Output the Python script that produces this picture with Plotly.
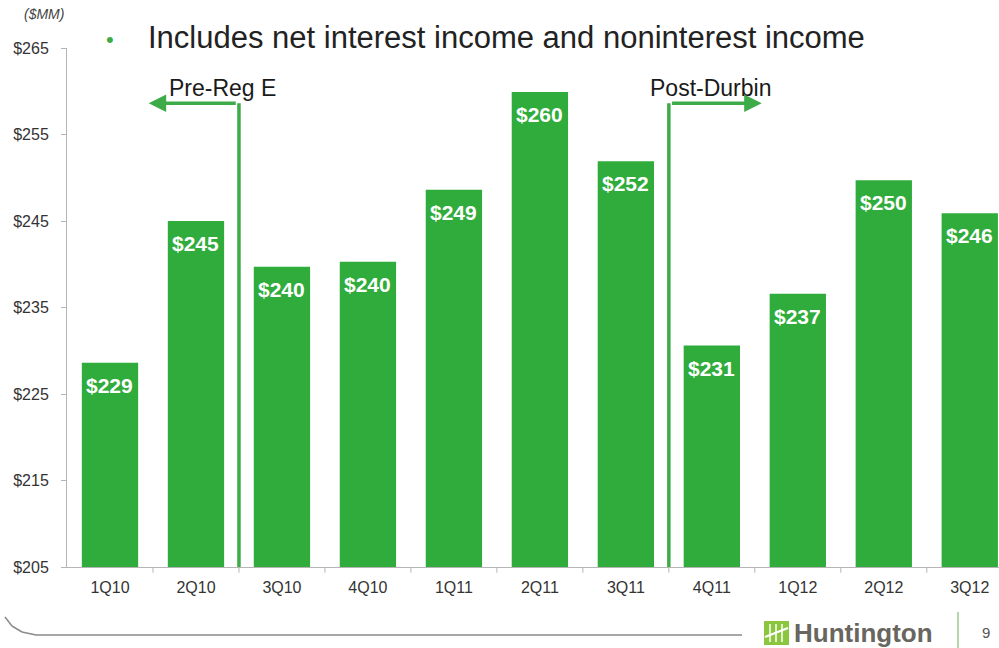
import plotly.graph_objects as go

# Quarterly revenue, $MM
quarters = ["1Q10", "2Q10", "3Q10", "4Q10", "1Q11", "2Q11", "3Q11",
            "4Q11", "1Q12", "2Q12", "3Q12"]
revenue = [228.6, 245.0, 239.7, 240.3, 248.6, 259.9, 251.9,
           230.6, 236.6, 249.7, 245.9]
y_ticks = [205, 215, 225, 235, 245, 255, 265]
y_tick_text = ["$205", "$215", "$225", "$235", "$245", "$255", "$265"]

W, H = 999, 648
L, T, B = 67, 48, 81
PW, PH = W - L, H - T - B

GREEN = "#2fac3b"
LINE_GREEN = "#3dab48"
GRAY_AX = "#b5b5b5"
TXT = "#333333"


def px(x):
    return (x - L) / PW


def py(y):
    return (H - B - y) / PH


x_idx = list(range(len(quarters)))

fig = go.Figure()
fig.add_trace(go.Bar(
    x=x_idx, y=[v - 205 for v in revenue], base=205,
    marker=dict(color=GREEN, line=dict(width=0)),
    width=0.655, hoverinfo="skip",
))

annotations = []
# value labels inside the top of each bar
for i, v in enumerate(revenue):
    annotations.append(dict(
        x=i, y=v, xref="x", yref="y", text=f"${v:.0f}", showarrow=False,
        yanchor="top", yshift=-9,
        font=dict(family="Arial, Liberation Sans", size=21, color="white",
                  weight="bold"),
    ))

# period markers
arrow_y = 258.6
for x0, tip, label, lx in [(1.5, 0.45, "Pre-Reg E", 1.31),
                           (6.5, 7.58, "Post-Durbin", 6.98)]:
    fig.add_shape(type="line", x0=x0, x1=x0, y0=205, y1=arrow_y,
                  xref="x", yref="y", line=dict(color=LINE_GREEN, width=3.5))
    annotations.append(dict(
        x=tip, y=arrow_y, ax=x0 - (0.02 if tip < x0 else -0.02), ay=arrow_y,
        xref="x", yref="y", axref="x", ayref="y", text="",
        showarrow=True, arrowhead=2, arrowsize=1.0, arrowwidth=3.5,
        arrowcolor=LINE_GREEN,
    ))
    annotations.append(dict(
        x=lx, y=py(88), xref="x", yref="paper", text=label, showarrow=False,
        font=dict(family="Arial, Liberation Sans", size=23, color="#1a1a1a"),
        xanchor="center", yanchor="middle",
    ))

# heading bullet
annotations.append(dict(
    x=px(146), y=py(37), xref="paper", yref="paper",
    text="Includes net interest income and noninterest income",
    showarrow=False, xanchor="left", yanchor="middle",
    font=dict(family="Arial, Liberation Sans", size=31, color="#222222"),
))
annotations.append(dict(
    x=px(110), y=py(39), xref="paper", yref="paper", text="•",
    showarrow=False, xanchor="center", yanchor="middle",
    font=dict(family="Arial", size=22, color=LINE_GREEN),
))
annotations.append(dict(
    x=px(44), y=py(14), xref="paper", yref="paper", text="<i>($MM)</i>",
    showarrow=False, xanchor="center", yanchor="middle",
    font=dict(family="Arial, Liberation Sans", size=14, color="#444444"),
))

# footer: logo word mark and page number
annotations.append(dict(
    x=px(792), y=py(633), xref="paper", yref="paper", text="<b>Huntington</b>",
    showarrow=False, xanchor="left", yanchor="middle",
    font=dict(family="Liberation Sans Narrow, Arial Narrow, Arial", size=26,
              color="#68665e"),
))
annotations.append(dict(
    x=px(986), y=py(632), xref="paper", yref="paper", text="9",
    showarrow=False, xanchor="center", yanchor="middle",
    font=dict(family="Arial", size=15, color="#555555"),
))

shapes = []
FRAME = dict(color="#8a8a8a", width=1.5)
# frame line along the bottom with a rounded left corner
corner = [(-1, 585), (1, 605), (5, 617), (12, 626), (22, 632), (36, 635)]
for (ax0, ay0), (ax1, ay1) in zip(corner[:-1], corner[1:]):
    shapes.append(dict(type="line", xref="paper", yref="paper",
                       x0=px(ax0), y0=py(ay0), x1=px(ax1), y1=py(ay1),
                       line=FRAME))
shapes.append(dict(type="line", xref="paper", yref="paper",
                   x0=px(36), y0=py(635), x1=px(742), y1=py(635),
                   line=FRAME))
# logo icon
shapes.append(dict(
    type="rect", xref="paper", yref="paper",
    x0=px(764), x1=px(789), y0=py(645), y1=py(621),
    fillcolor="#8cc63f", line=dict(width=0),
))
for k in range(3):
    shapes.append(dict(
        type="line", xref="paper", yref="paper",
        x0=px(770 + k * 6), x1=px(770 + k * 6), y0=py(642), y1=py(624),
        line=dict(color="white", width=1.5),
    ))
shapes.append(dict(
    type="line", xref="paper", yref="paper",
    x0=px(765), x1=px(788), y0=py(637), y1=py(628),
    line=dict(color="white", width=2),
))
# divider before page number
shapes.append(dict(
    type="line", xref="paper", yref="paper",
    x0=px(958), x1=px(958), y0=py(612), y1=py(648),
    line=dict(color="#9bc98f", width=1.5),
))

fig.update_layout(
    width=W, height=H,
    margin=dict(l=L, r=0, t=T, b=B, pad=0),
    paper_bgcolor="white", plot_bgcolor="white",
    showlegend=False,
    annotations=annotations, shapes=shapes,
    xaxis=dict(
        range=[-0.5, 10.34], tickmode="array", tickvals=x_idx,
        ticktext=quarters, showgrid=False, zeroline=False,
        showline=True, linecolor=GRAY_AX, linewidth=1,
        ticks="", tickfont=dict(family="Arial, Liberation Sans",
                                size=16, color=TXT),
        ticklabelstandoff=6,
    ),
    yaxis=dict(
        range=[205, 265], tickmode="array", tickvals=y_ticks,
        ticktext=y_tick_text, showgrid=False, zeroline=False,
        showline=True, linecolor=GRAY_AX, linewidth=1,
        ticks="outside", ticklen=5, tickcolor=GRAY_AX,
        ticklabelstandoff=9,
        tickfont=dict(family="Arial, Liberation Sans", size=16, color=TXT),
    ),
)

# boundary tick marks between quarters on the category axis
for k in range(len(quarters)):
    fig.add_shape(type="line", xref="x", yref="paper",
                  x0=k + 0.5, x1=k + 0.5, y0=0, y1=-0.011,
                  line=dict(color=GRAY_AX, width=1))

fig.write_html("out.html")
